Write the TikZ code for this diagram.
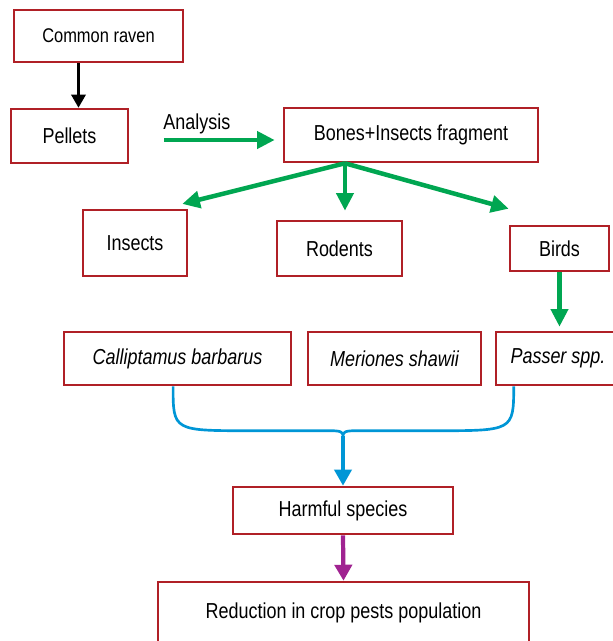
\documentclass[tikz,border=0pt]{standalone}
\usepackage{fontspec}
\setmainfont{Liberation Sans}[FakeStretch=0.83]
\usepackage{tikz}
\usetikzlibrary{arrows.meta,calc}

\definecolor{boxred}{RGB}{176,32,38}
\definecolor{flowgreen}{RGB}{0,166,81}
\definecolor{flowblue}{RGB}{0,150,214}
\definecolor{flowpurple}{RGB}{160,35,145}

\begin{document}
\begin{tikzpicture}[
    x=0.025cm, y=-0.025cm,
    box/.style={
        rectangle,
        draw=boxred,
        line width=1.8pt,
        fill=white,
        inner sep=0pt,
        font=\fontsize{15.4}{18}\selectfont,
        align=center
    },
    blkflow/.style={
        -{Triangle[length=3.3mm,width=3.6mm]},
        line width=1.8pt,
        draw=black
    },
    greenflow/.style={
        -{Triangle[length=4.4mm,width=4.2mm]},
        line width=3.2pt,
        draw=flowgreen
    },
    blueflow/.style={
        -{Triangle[length=4mm,width=4.2mm]},
        line width=3pt,
        draw=flowblue
    },
    purpleflow/.style={
        -{Triangle[length=4mm,width=4.3mm]},
        line width=3pt,
        draw=flowpurple
    },
    brace/.style={
        line width=1.9pt,
        draw=flowblue
    }
]
\useasboundingbox (0,0) rectangle (613,641);

% ---- Source and pellets ----
\node[box, minimum width=4.225cm, minimum height=1.3cm, font=\fontsize{14.1}{17}\selectfont] (raven) at (98.5,36) {Common raven};
\node[box, minimum width=2.925cm, minimum height=1.35cm] (pellets) at (69.5,136) {Pellets};
\node[box, minimum width=6.35cm,  minimum height=1.35cm] (bones)   at (411,135)  {Bones+Insects fragment};

% ---- Prey groups ----
\node[box, minimum width=2.6cm,   minimum height=1.65cm]  (insects) at (135,243)   {Insects};
\node[box, minimum width=3.125cm, minimum height=1.375cm] (rodents) at (339.5,248.5) {Rodents};
\node[box, minimum width=2.475cm, minimum height=1.125cm] (birds)   at (559.5,248.5) {Birds};

% ---- Species ----
\node[box, minimum width=5.675cm, minimum height=1.325cm] (calli)    at (177.5,358.5) {\itshape Calliptamus barbarus};
\node[box, minimum width=4.325cm, minimum height=1.325cm] (meriones) at (394.5,358.5) {\itshape Meriones shawii};
\node[box, minimum width=3.1cm,   minimum height=1.325cm] (passer)   at (558,358.5)   {\itshape Passer spp.};

% ---- Outcome ----
\node[box, minimum width=5.5cm,   minimum height=1.175cm] (harmful)   at (343,510.5) {Harmful species};
\node[box, minimum width=9.275cm, minimum height=1.55cm]  (reduction) at (343.5,613) {Reduction in crop pests population};

% ---- Flows ----
\coordinate (ravenout) at ([xshift=-0.5cm]raven.south);
\draw[blkflow] (ravenout) -- (ravenout |- pellets.north);

\coordinate (anl) at ([yshift=-0.1cm]pellets.east);
\draw[greenflow, shorten <=0.875cm, shorten >=0.2cm] (anl) --
    node[above=0.1cm, pos=0.44, inner sep=0pt, font=\fontsize{15.4}{18}\selectfont]{Analysis} (anl -| bones.west);

\coordinate (fork) at ([xshift=-1.65cm]bones.south);
\draw[greenflow] (fork) -- ([shift={(-0.15cm,0.12cm)}]insects.north east);
\draw[greenflow, shorten >=0.225cm] (fork) -- (fork |- rodents.north);
\draw[greenflow] (fork) -- ([yshift=0.4cm]birds.north west);
\draw[greenflow, shorten >=0.1cm] (birds.south) -- (birds.south |- passer.north);

% ---- Brace joining the harmful species ----
\coordinate (bl)   at ([xshift=-0.11cm]calli.south);
\coordinate (br)   at ([xshift=0.475cm]passer.south west);
\coordinate (btip) at ([yshift=1.25cm]harmful.north);
\draw[brace] (bl) .. controls +(0,45) and +(-80,0) .. ($(btip)+(-90,-5)$)
    -- ($(btip)+(-13,-5)$) .. controls +(10,0) and +(0,-4) .. (btip)
    .. controls +(0,-4) and +(-10,0) .. ($(btip)+(13,-5)$)
    -- ($(btip)+(90,-5)$) .. controls +(80,0) and +(0,45) .. (br);

\draw[blueflow]   (btip) -- (harmful.north);
\draw[purpleflow] (harmful.south) -- (reduction.north);

\end{tikzpicture}
\end{document}
